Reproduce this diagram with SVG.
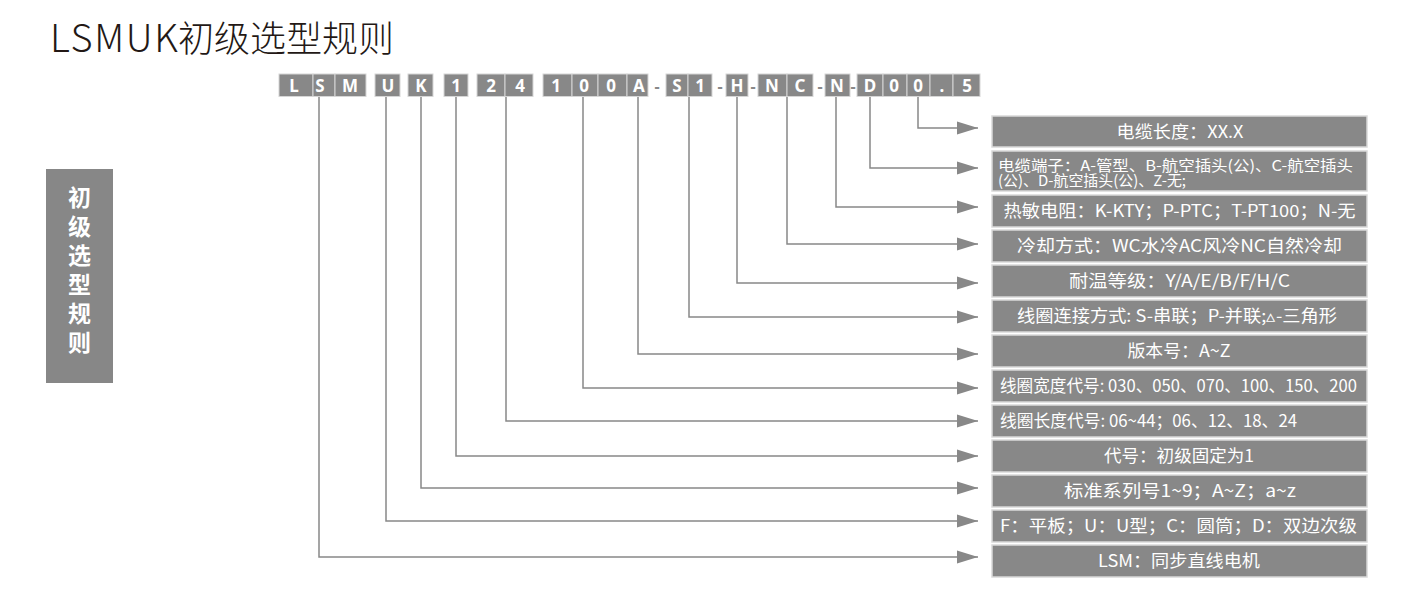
<svg xmlns="http://www.w3.org/2000/svg" width="1419" height="592" viewBox="0 0 1419 592">
<defs>
<marker id="ah" markerUnits="userSpaceOnUse" markerWidth="22" markerHeight="14" refX="21" refY="7" orient="auto">
<path d="M0,0.5 L21,7 L0,13.5 Z" fill="#888888"/>
</marker>
<style>
.cell{fill:#888888;stroke:#d6d6d6;stroke-width:1}
.ch{font-family:"Noto Sans","Liberation Sans",sans-serif;font-weight:bold;font-size:17px;fill:#ffffff;text-anchor:middle}
.dash{font-family:"Noto Sans","Liberation Sans",sans-serif;font-weight:bold;font-size:16px;fill:#888888;text-anchor:middle}
.box{fill:#888888;stroke:#d9d9d9;stroke-width:1.5}
.bt{font-family:"Noto Sans CJK SC","Noto Sans",sans-serif;font-size:17px;fill:#ffffff;text-anchor:middle}
.bl{font-family:"Noto Sans CJK SC","Noto Sans",sans-serif;font-size:15px;fill:#ffffff;text-anchor:start}
.bl17{font-family:"Noto Sans CJK SC","Noto Sans",sans-serif;font-size:17px;fill:#ffffff;text-anchor:start}
.conn{fill:none;stroke:#888888;stroke-width:1.5}
</style>
</defs>
<rect width="1419" height="592" fill="#ffffff"/>
<g id="title">
<text x="50" y="52" font-family="'Noto Sans CJK SC','Noto Sans',sans-serif" font-size="36" font-weight="300" fill="#231815"><tspan x="50" font-size="38" letter-spacing="1.6">LSMUK</tspan><tspan x="178">初级选型规则</tspan></text>
</g>
<g id="side-label">
<rect x="46" y="169" width="67" height="214" fill="#878787"/>
<g font-family="'Noto Sans CJK SC',sans-serif" font-size="23" font-weight="bold" fill="#ffffff" text-anchor="middle">
<text x="79.5" y="206">初</text>
<text x="79.5" y="235">级</text>
<text x="79.5" y="264">选</text>
<text x="79.5" y="293">型</text>
<text x="79.5" y="322">规</text>
<text x="79.5" y="351">则</text>
</g>
</g>
<g id="code">
<rect class="cell" x="279" y="74" width="34" height="22.5"/><text class="ch" x="294" y="92">L</text>
<rect class="cell" x="313" y="74" width="22" height="22.5"/><text class="ch" x="320" y="92">S</text>
<rect class="cell" x="335" y="74" width="31" height="22.5"/><text class="ch" x="350" y="92">M</text>
<rect class="cell" x="375" y="74" width="25" height="22.5"/><text class="ch" x="388" y="92">U</text>
<rect class="cell" x="408" y="74" width="25" height="22.5"/><text class="ch" x="421" y="92">K</text>
<rect class="cell" x="444" y="74" width="24" height="22.5"/><text class="ch" x="456" y="92">1</text>
<rect class="cell" x="477" y="74" width="28" height="22.5"/><text class="ch" x="491" y="92">2</text>
<rect class="cell" x="505" y="74" width="28" height="22.5"/><text class="ch" x="520" y="92">4</text>
<rect class="cell" x="543" y="74" width="29" height="22.5"/><text class="ch" x="556" y="92">1</text>
<rect class="cell" x="572" y="74" width="26" height="22.5"/><text class="ch" x="584" y="92">0</text>
<rect class="cell" x="598" y="74" width="29" height="22.5"/><text class="ch" x="611" y="92">0</text>
<rect class="cell" x="627" y="74" width="21" height="22.5"/><text class="ch" x="639" y="92">A</text>
<text class="dash" x="657" y="92">-</text>
<rect class="cell" x="666" y="74" width="22" height="22.5"/><text class="ch" x="677" y="92">S</text>
<rect class="cell" x="688" y="74" width="24" height="22.5"/><text class="ch" x="700" y="92">1</text>
<text class="dash" x="720" y="92">-</text>
<rect class="cell" x="726" y="74" width="22" height="22.5"/><text class="ch" x="737" y="92">H</text>
<text class="dash" x="753" y="92">-</text>
<rect class="cell" x="758" y="74" width="29" height="22.5"/><text class="ch" x="772" y="92">N</text>
<rect class="cell" x="787" y="74" width="26" height="22.5"/><text class="ch" x="800" y="92">C</text>
<text class="dash" x="820" y="92">-</text>
<rect class="cell" x="825" y="74" width="25" height="22.5"/><text class="ch" x="837" y="92">N</text>
<text class="dash" x="853" y="92">-</text>
<rect class="cell" x="857" y="74" width="26" height="22.5"/><text class="ch" x="870" y="92">D</text>
<rect class="cell" x="883" y="74" width="24" height="22.5"/><text class="ch" x="894" y="92">0</text>
<rect class="cell" x="907" y="74" width="23" height="22.5"/><text class="ch" x="918" y="92">0</text>
<rect class="cell" x="930" y="74" width="23" height="22.5"/><text class="ch" x="942" y="92">.</text>
<rect class="cell" x="953" y="74" width="27" height="22.5"/><text class="ch" x="967" y="92">5</text>
</g>
<g id="connectors">
<path class="conn" marker-end="url(#ah)" d="M918,97 V128 H978"/>
<path class="conn" marker-end="url(#ah)" d="M870,97 V168 H978"/>
<path class="conn" marker-end="url(#ah)" d="M836,97 V207 H978"/>
<path class="conn" marker-end="url(#ah)" d="M787,97 V244 H978"/>
<path class="conn" marker-end="url(#ah)" d="M737,97 V283 H978"/>
<path class="conn" marker-end="url(#ah)" d="M689,97 V317 H978"/>
<path class="conn" marker-end="url(#ah)" d="M638,97 V354 H978"/>
<path class="conn" marker-end="url(#ah)" d="M583,97 V388 H978"/>
<path class="conn" marker-end="url(#ah)" d="M506,97 V421 H978"/>
<path class="conn" marker-end="url(#ah)" d="M456,97 V456 H978"/>
<path class="conn" marker-end="url(#ah)" d="M421,97 V488 H978"/>
<path class="conn" marker-end="url(#ah)" d="M386,97 V521 H978"/>
<path class="conn" marker-end="url(#ah)" d="M319,97 V557 H978"/>
</g>
<g id="n-cable-length"><rect class="box" x="992" y="116" width="375" height="31"/><text class="bt" x="1180" y="137.5" textLength="127" lengthAdjust="spacingAndGlyphs">电缆长度：XX.X</text></g>
<g id="n-cable-terminal"><rect class="box" x="992" y="151" width="375" height="40"/>
<text class="bl" x="998" y="170.5" textLength="355" lengthAdjust="spacingAndGlyphs">电缆端子：A-管型、B-航空插头(公)、C-航空插头</text>
<text class="bl" x="998" y="186" textLength="188" lengthAdjust="spacingAndGlyphs">(公)、D-航空插头(公)、Z-无;</text></g>
<g id="n-thermistor"><rect class="box" x="992" y="195" width="375" height="32"/><text class="bt" x="1179.5" y="217" textLength="352" lengthAdjust="spacingAndGlyphs">热敏电阻：K-KTY；P-PTC；T-PT100；N-无</text></g>
<g id="n-cooling"><rect class="box" x="992" y="230" width="375" height="32"/><text class="bt" x="1179.5" y="252" textLength="325" lengthAdjust="spacingAndGlyphs">冷却方式：WC水冷AC风冷NC自然冷却</text></g>
<g id="n-temp"><rect class="box" x="992" y="265" width="375" height="32"/><text class="bt" x="1179.5" y="287" textLength="221" lengthAdjust="spacingAndGlyphs">耐温等级：Y/A/E/B/F/H/C</text></g>
<g id="n-connection"><rect class="box" x="992" y="300" width="375" height="32"/><text class="bt" x="1177" y="322" textLength="320" lengthAdjust="spacingAndGlyphs">线圈连接方式:  S-串联；P-并联;▵-三角形</text></g>
<g id="n-version"><rect class="box" x="992" y="335" width="375" height="32"/><text class="bt" x="1179" y="357" textLength="103" lengthAdjust="spacingAndGlyphs">版本号：A~Z</text></g>
<g id="n-width"><rect class="box" x="992" y="370" width="375" height="32"/><text class="bt" x="1178.5" y="392" textLength="357" lengthAdjust="spacingAndGlyphs">线圈宽度代号:  030、050、070、100、150、200</text></g>
<g id="n-length"><rect class="box" x="992" y="405" width="375" height="32"/><text class="bl17" x="1000" y="427" textLength="297" lengthAdjust="spacingAndGlyphs">线圈长度代号:  06~44；06、12、18、24</text></g>
<g id="n-code"><rect class="box" x="992" y="440" width="375" height="32"/><text class="bt" x="1179" y="462" textLength="150" lengthAdjust="spacingAndGlyphs">代号：初级固定为1</text></g>
<g id="n-series"><rect class="box" x="992" y="475" width="375" height="32"/><text class="bt" x="1180" y="497" textLength="232" lengthAdjust="spacingAndGlyphs">标准系列号1~9；A~Z；a~z</text></g>
<g id="n-type"><rect class="box" x="992" y="510" width="375" height="32"/><text class="bt" x="1178.5" y="532" textLength="357" lengthAdjust="spacingAndGlyphs">F：平板；U：U型；C：圆筒；D：双边次级</text></g>
<g id="n-lsm"><rect class="box" x="992" y="545" width="375" height="32"/><text class="bt" x="1179" y="567" textLength="162" lengthAdjust="spacingAndGlyphs">LSM：同步直线电机</text></g>
</svg>
